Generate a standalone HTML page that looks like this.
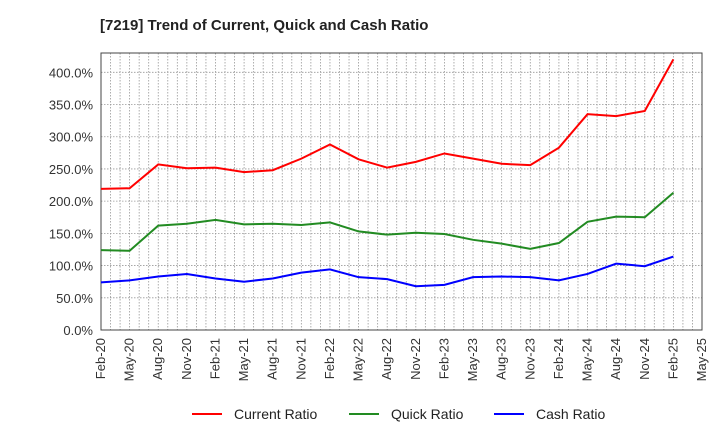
<!DOCTYPE html>
<html><head><meta charset="utf-8"><style>
body{margin:0;background:#fff;width:720px;height:440px;overflow:hidden;font-family:"Liberation Sans",sans-serif}
</style></head><body>
<svg id="c" width="720" height="440">
<text x="100" y="30" font-size="15" font-weight="bold" fill="#222">[7219]  Trend of Current, Quick and Cash Ratio</text>
<g id="grid"></g><g id="axes"></g><g id="lines"></g>
<g>
<line x1="192" y1="414" x2="222" y2="414" stroke="#f00" stroke-width="2"/>
<text x="234" y="419" font-size="14" fill="#222">Current Ratio</text>
<line x1="349" y1="414" x2="379" y2="414" stroke="#228b22" stroke-width="2"/>
<text x="391" y="419" font-size="14" fill="#222">Quick Ratio</text>
<line x1="494" y1="414" x2="524" y2="414" stroke="#00f" stroke-width="2"/>
<text x="536" y="419" font-size="14" fill="#222">Cash Ratio</text>
</g>
</svg>
<script>
const xLabels=["Feb-20","May-20","Aug-20","Nov-20","Feb-21","May-21","Aug-21","Nov-21","Feb-22","May-22","Aug-22","Nov-22","Feb-23","May-23","Aug-23","Nov-23","Feb-24","May-24","Aug-24","Nov-24","Feb-25","May-25"];
const yTicks=[0,50,100,150,200,250,300,350,400];
const current=[219,220,257,251,252,245,248,266,288,265,252,261,274,266,258,256,283,335,332,340,420];
const quick=[124,123,162,165,171,164,165,163,167,153,148,151,149,140,134,126,135,168,176,175,213];
const cash=[74,77,83,87,80,75,80,89,94,82,79,68,70,82,83,82,77,87,103,99,114];
const L=101,R=702,T=53,B=330;
const x=m=>L+(R-L)*m/63;
const y=v=>B-(B-72.3)*v/400;
const ns="http://www.w3.org/2000/svg";
function mk(t,a,p){const e=document.createElementNS(ns,t);for(const k in a)e.setAttribute(k,a[k]);p.appendChild(e);return e;}
const g=document.getElementById('grid'),ax=document.getElementById('axes'),ln=document.getElementById('lines');
for(let m=1;m<63;m++){const e=mk('line',{x1:x(m),x2:x(m),y1:T,y2:B,stroke:'#999','stroke-width':0.8,'stroke-dasharray':'1.5,1.5'},g);

}
yTicks.forEach(v=>{if(v>0){const e=mk('line',{x1:L,x2:R,y1:y(v),y2:y(v),stroke:'#999','stroke-width':0.8,'stroke-dasharray':'1.5,1.5'},g);

}
const t=mk('text',{x:L-8,y:y(v)+5,'text-anchor':'end','font-size':13,fill:'#333'},ax);t.textContent=v.toFixed(1)+'%';

});
xLabels.forEach((s,i)=>{const xx=x(i*3);const t=mk('text',{x:0,y:0,transform:`translate(${xx+4},${B+8}) rotate(-90)`,'text-anchor':'end','font-size':13,fill:'#333'},ax);t.textContent=s;

});
const fr=mk('rect',{x:L,y:T,width:R-L,height:B-T,fill:'none',stroke:'#444','stroke-width':1},ax);


[[current,'#f00','current-ratio-line'],[quick,'#228b22','quick-ratio-line'],[cash,'#00f','cash-ratio-line']].forEach(([d,c,n])=>{
const p=mk('polyline',{points:d.map((v,i)=>x(i*3)+','+y(v)).join(' '),fill:'none',stroke:c,'stroke-width':2},ln);

});
</script>
</body></html>
